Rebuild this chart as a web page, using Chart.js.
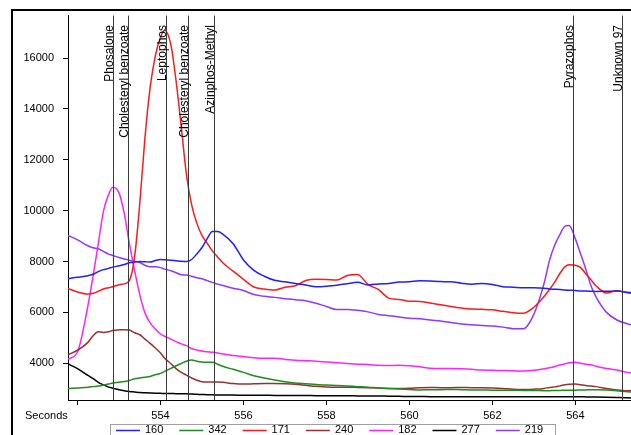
<!DOCTYPE html>
<html><head><meta charset="utf-8">
<script src="https://cdn.jsdelivr.net/npm/chart.js@4.4.0/dist/chart.umd.min.js"></script>
<style>html,body{margin:0;padding:0;background:#fff;overflow:hidden}canvas{display:block}</style>
</head><body>
<canvas id="c" width="631" height="435"></canvas>
<script>
// ---- data ----
const seconds = [551.75,552,552.25,552.375,552.5,552.625,552.75,552.85,553,553.125,553.25,553.375,553.5,553.625,553.75,553.875,554,554.1,554.25,554.375,554.5,554.625,554.75,554.875,555,555.125,555.25,555.375,555.5,555.75,556,556.25,556.5,556.75,557,557.25,557.5,557.75,558,558.25,558.5,558.75,559,559.25,559.5,559.75,560,560.25,560.5,560.75,561,561.25,561.5,561.75,562,562.25,562.5,562.75,563,563.25,563.375,563.5,563.625,563.75,563.85,564,564.125,564.25,564.375,564.5,564.75,565,565.25,565.4];

const ion160 = [7330,7380,7440,7500,7600,7680,7730,7780,7830,7880,7950,7980,8000,7990,7980,8040,8080,8070,8050,8030,8010,8000,8080,8300,8550,8900,9180,9180,9080,8700,8060,7650,7420,7260,7200,7140,7080,7010,7030,7070,7130,7180,7080,7120,7140,7190,7205,7240,7230,7210,7205,7150,7110,7140,7100,7010,6990,6970,6970,6950,6920,6910,6900,6880,6870,6860,6840,6840,6830,6820,6830,6840,6790,6770];

const ion342 = [3000,3030,3060,3080,3100,3140,3180,3220,3250,3280,3320,3390,3420,3450,3480,3550,3600,3680,3800,3900,3990,4080,4130,4080,4050,4040,4040,3960,3880,3760,3640,3510,3420,3340,3270,3220,3190,3160,3140,3120,3100,3080,3060,3030,3010,2990,2970,2950,2960,2960,2970,2960,2950,2950,2940,2940,2940,2930,2930,2920,2920,2930,2930,2940,2940,2940,2950,2950,2960,2960,2950,2920,2880,2870];

const ion171 = [6950,6800,6720,6750,6830,6920,6970,7010,7090,7120,7250,8180,10280,12870,14850,16090,16820,17090,16520,15100,13300,11420,10230,9510,9020,8720,8420,8180,7950,7620,7300,7000,6920,6880,6990,7050,7250,7300,7290,7270,7450,7490,7100,6900,6560,6510,6440,6430,6370,6300,6230,6170,6130,6120,6100,6040,5990,5970,6200,6630,6900,7190,7530,7800,7870,7850,7760,7520,7280,7040,6760,6850,6770,6740];

const ion240 = [4320,4510,4820,5080,5240,5210,5240,5290,5310,5320,5310,5200,5120,4950,4780,4600,4400,4200,3980,3790,3640,3530,3420,3330,3270,3260,3260,3260,3250,3200,3180,3190,3200,3200,3190,3170,3130,3090,3070,3060,3060,3050,3040,3030,3010,3010,3020,3040,3050,3040,3040,3050,3040,3040,3030,3010,2980,2970,2980,3010,3050,3070,3110,3150,3170,3180,3150,3120,3100,3080,3010,2950,2920,2940];

const ion182 = [4150,4450,6260,7440,8700,9980,10640,10920,10700,9900,8700,7650,6700,5980,5590,5350,5150,5060,4950,4850,4760,4690,4580,4520,4480,4450,4430,4400,4360,4300,4260,4220,4200,4200,4150,4120,4100,4080,4050,4020,3990,3960,3950,3920,3910,3920,3900,3860,3800,3790,3790,3780,3760,3730,3720,3710,3700,3690,3720,3780,3820,3870,3930,3980,4020,4040,4000,3960,3940,3880,3790,3730,3640,3600];

const ion277 = [3990,3790,3520,3390,3250,3150,3060,3020,2960,2920,2890,2870,2850,2840,2830,2820,2815,2810,2810,2800,2800,2795,2790,2780,2770,2760,2760,2750,2750,2750,2740,2740,2740,2735,2735,2730,2730,2725,2725,2720,2720,2715,2710,2710,2705,2700,2690,2690,2685,2685,2680,2680,2680,2680,2680,2680,2680,2680,2680,2680,2680,2680,2680,2680,2680,2680,2680,2675,2670,2670,2665,2655,2640,2620];

const ion219 = [9040,8850,8620,8540,8500,8400,8290,8240,8160,8100,8050,8000,7960,7850,7790,7790,7760,7700,7640,7560,7480,7470,7420,7360,7320,7250,7180,7110,7060,6950,6860,6700,6630,6590,6540,6500,6460,6360,6230,6110,6110,6080,6020,5920,5870,5820,5770,5750,5700,5660,5600,5540,5510,5480,5460,5420,5360,5360,5930,7170,8040,8640,9060,9390,9420,8880,8300,7700,7050,6600,6000,5700,5550,5490];

const seriesNames = ['160','342','171','240','182','277','219'];
const seriesColors = ['#1f1fff','#1e8c1e','#ff1a1a','#993030','#ff22ff','#000000','#9038ff'];
const seriesValues = [ion160, ion342, ion171, ion240, ion182, ion277, ion219];

const markerNames = ['Phosalone','Cholesteryl benzoate','Leptophos','Cholesteryl benzoate','Azinphos-Methyl','Pyrazophos','Unknown 97'];
const markerTimes = [552.86, 553.21, 554.13, 554.66, 555.29, 563.94, 565.12];

const xTickValues = [552, 554, 556, 558, 560, 562, 564];
const xTickLabels = ['', '554', '556', '558', '560', '562', '564'];
const yTickValues = [4000, 6000, 8000, 10000, 12000, 14000, 16000];
const xAxisTitle = 'Seconds';

const AXIS_FONT = "'Liberation Sans', Arial, sans-serif";
const AXIS_SIZE = 11;
const LABEL_FONT = "'Liberation Sans', Arial, sans-serif";

const decor = {
  id: 'decor',
  beforeDraw(chart) {
    const c = chart.ctx;
    c.save(); c.fillStyle = '#fff'; c.fillRect(0, 0, chart.width, chart.height); c.restore();
  },
  afterDatasetsDraw(chart) {
    const c = chart.ctx, xs = chart.scales.x, a = chart.chartArea;
    c.save();
    markerTimes.forEach((t, i) => {
      const x = Math.round(xs.getPixelForValue(t)) + 0.5;
      c.strokeStyle = '#3a3a3a'; c.lineWidth = 1;
      c.beginPath(); c.moveTo(x, a.top); c.lineTo(x, a.bottom); c.stroke();
      c.save();
      c.translate(x - 1, 25);
      c.rotate(-Math.PI / 2);
      c.font = '12px ' + LABEL_FONT;
      c.fillStyle = '#000';
      c.textAlign = 'right';
      c.textBaseline = 'alphabetic';
      c.fillText(markerNames[i], 0, 0);
      c.restore();
    });
    c.restore();
  },
  afterDraw(chart) {
    const c = chart.ctx;
    c.save();
    // frame
    c.fillStyle = '#000';
    c.fillRect(11, 9, 2, chart.height - 9);
    c.fillRect(11, 9, chart.width - 11, 2);
    // axis title
    c.font = AXIS_SIZE + 'px ' + AXIS_FONT;
    c.textAlign = 'left'; c.textBaseline = 'middle';
    c.fillText(xAxisTitle, 25, 416);
    // legend
    c.strokeStyle = '#a0a0a0'; c.lineWidth = 1;
    c.strokeRect(110.5, 424.5, 445, 20);
    chart.data.datasets.forEach((ds, i) => {
      const x0 = 116 + i * 63.3;
      c.strokeStyle = ds.borderColor; c.lineWidth = 1.5;
      c.beginPath(); c.moveTo(x0, 430.5); c.lineTo(x0 + 24, 430.5); c.stroke();
      c.fillStyle = '#000';
      c.textAlign = 'left'; c.textBaseline = 'middle';
      c.fillText(ds.label, x0 + 29, 430);
    });
    c.restore();
  }
};

const datasets = seriesNames.map((n, i) => ({
  label: n,
  data: seconds.map((s, k) => ({ x: s, y: seriesValues[i][k] })),
  borderColor: seriesColors[i],
  backgroundColor: seriesColors[i],
  borderWidth: 1.5,
  pointRadius: 0,
  cubicInterpolationMode: 'monotone',
  fill: false
}));

new Chart(document.getElementById('c'), {
  type: 'line',
  data: { datasets },
  plugins: [decor],
  options: {
    responsive: false,
    animation: false,
    devicePixelRatio: 1,
    layout: { padding: { top: 11, left: 0, right: 0, bottom: 0 } },
    plugins: { legend: { display: false }, tooltip: { enabled: false } },
    scales: {
      x: {
        type: 'linear', min: 551.77, max: 565.34,
        afterFit(s) { s.height = 35; },
        afterBuildTicks(s) { s.ticks = xTickValues.map(v => ({ value: v })); },
        ticks: {
          includeBounds: false, autoSkip: false, maxRotation: 0, padding: 4,
          color: '#000', font: { size: AXIS_SIZE, family: AXIS_FONT },
          callback: (v) => { const k = xTickValues.indexOf(v); return k >= 0 ? xTickLabels[k] : ''; }
        },
        grid: { drawOnChartArea: false, drawTicks: true, tickLength: 5, color: '#000' },
        border: { display: true, color: '#000', width: 1 }
      },
      y: {
        type: 'linear', min: 2554, max: 17671,
        afterFit(s) { s.width = 68; },
        afterBuildTicks(s) { s.ticks = yTickValues.map(v => ({ value: v })); },
        ticks: {
          includeBounds: false, padding: 9, color: '#000',
          font: { size: AXIS_SIZE, family: AXIS_FONT },
          callback: (v) => String(v)
        },
        grid: { drawOnChartArea: false, drawTicks: true, tickLength: 5, color: '#000' },
        border: { display: true, color: '#000', width: 1 }
      }
    }
  }
});
</script>
</body></html>
